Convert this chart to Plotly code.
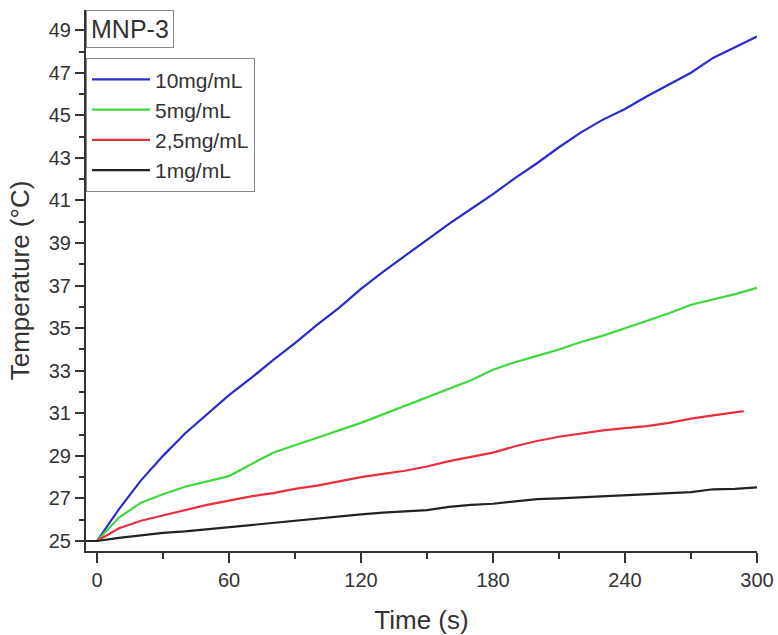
import plotly.graph_objects as go

# ---- data ----
time_s = [0, 10, 20, 30, 40, 50, 60, 70, 80, 90, 100, 110, 120, 130, 140, 150,
          160, 170, 180, 190, 200, 210, 220, 230, 240, 250, 260, 270, 280, 290, 300]

t_10 = [25.0, 26.5, 27.85, 29.0, 30.05, 30.95, 31.85, 32.65, 33.5, 34.3, 35.15,
        35.95, 36.85, 37.65, 38.4, 39.15, 39.9, 40.6, 41.3, 42.05, 42.75, 43.5,
        44.2, 44.8, 45.3, 45.9, 46.45, 47.0, 47.7, 48.2, 48.7]

t_5 = [25.0, 26.1, 26.8, 27.2, 27.55, 27.8, 28.05, 28.6, 29.15, 29.5, 29.85,
       30.2, 30.55, 30.95, 31.35, 31.75, 32.15, 32.55, 33.05, 33.4, 33.7, 34.0,
       34.35, 34.65, 35.0, 35.35, 35.7, 36.1, 36.35, 36.6, 36.9]

time_red = time_s[:-1] + [294]
t_25 = [25.0, 25.6, 25.95, 26.2, 26.45, 26.7, 26.9, 27.1, 27.25, 27.45, 27.6,
        27.8, 28.0, 28.15, 28.3, 28.5, 28.75, 28.95, 29.15, 29.45, 29.7, 29.9,
        30.05, 30.2, 30.3, 30.4, 30.55, 30.75, 30.9, 31.05, 31.1]

time_black = [-5] + time_s
t_1 = [25.0, 25.0, 25.15, 25.28, 25.38, 25.45, 25.55, 25.67, 25.75, 25.85, 25.98,
       26.07, 26.15, 26.25, 26.33, 26.38, 26.45, 26.6, 26.7, 26.75, 26.85, 26.97,
       27.0, 27.05, 27.1, 27.12, 27.18, 27.24, 27.3, 27.43, 27.45, 27.52]

series_names = ["10mg/mL", "5mg/mL", "2,5mg/mL", "1mg/mL"]
x_ticks = [0, 60, 120, 180, 240, 300]
y_ticks = [25, 27, 29, 31, 33, 35, 37, 39, 41, 43, 45, 47, 49]

colors = ["#2a2ad0", "#3ed83e", "#e8303c", "#222222"]
FONT = "Liberation Sans, Arial"
TXT = "#333333"

fig = go.Figure()
for name, xs, ys, c in zip(series_names,
                           [time_s, time_s, time_red, time_black],
                           [t_10, t_5, t_25, t_1], colors):
    fig.add_trace(go.Scatter(x=xs, y=ys, mode="lines", name=name,
                             line=dict(color=c, width=2.2)))

axis_common = dict(
    showgrid=False, zeroline=False, showline=True, linecolor="#333333",
    linewidth=2, ticks="outside", tickcolor="#333333", tickwidth=2,
    mirror=False, automargin=False,
)

fig.update_xaxes(range=[-5, 300], tickvals=x_ticks, ticklen=10,
                 tickfont=dict(family=FONT, size=20, color=TXT),
                 minor=dict(dtick=30, tick0=0, ticks="outside", ticklen=6,
                            tickwidth=2, tickcolor="#333333"),
                 title=dict(text="Time (s)", standoff=22,
                            font=dict(family=FONT, size=26, color=TXT)),
                 **axis_common)
fig.update_yaxes(range=[24.53, 49.95], tickvals=y_ticks, ticklen=9,
                 tickfont=dict(family=FONT, size=20, color=TXT),
                 minor=dict(dtick=1, tick0=25, ticks="outside", ticklen=5,
                            tickwidth=2, tickcolor="#333333"),
                 title=dict(text="Temperature (°C)", standoff=12,
                            font=dict(family=FONT, size=26, color=TXT)),
                 **axis_common)

fig.update_layout(
    width=778, height=635,
    margin=dict(l=86, r=21, t=10, b=84),
    paper_bgcolor="white", plot_bgcolor="white",
    legend=dict(x=0, y=0.911, xanchor="left", yanchor="top",
                bordercolor="#888888", borderwidth=1, bgcolor="white",
                itemwidth=58,
                font=dict(family=FONT, size=21, color=TXT),
                tracegroupgap=0),
    annotations=[dict(text="MNP-3", x=0, y=1, xref="paper", yref="paper",
                      xanchor="left", yanchor="top", showarrow=False,
                      bordercolor="#888888", borderwidth=1, borderpad=4,
                      bgcolor="white",
                      font=dict(family=FONT, size=25, color=TXT))],
)

fig.write_html("out.html")
